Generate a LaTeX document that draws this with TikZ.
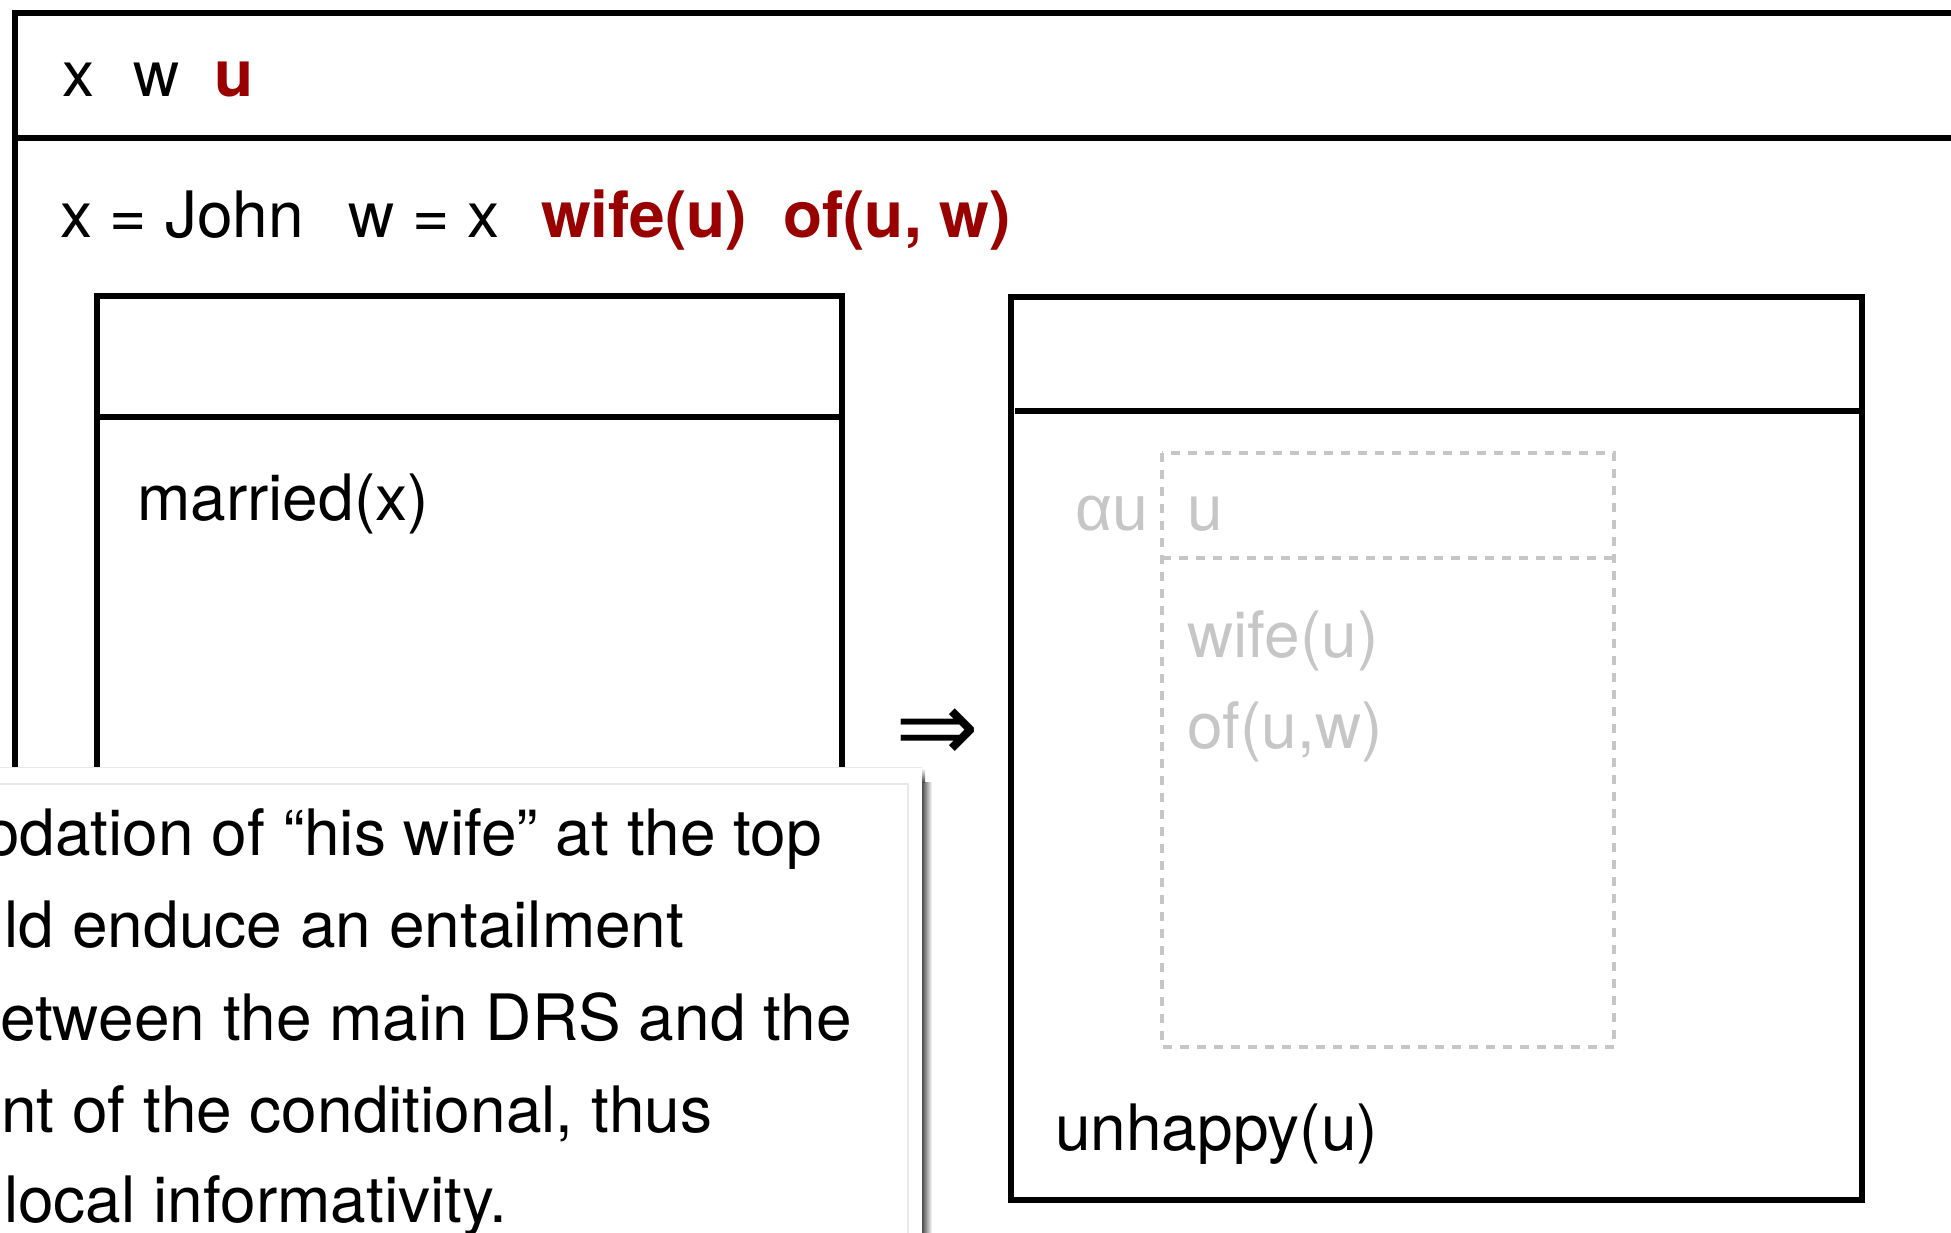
\documentclass[tikz,border=0pt]{standalone}
\usepackage{fontspec}
\setmainfont{TeX Gyre Heros}
\newfontfamily\arrowfont{DejaVu Sans}
\newfontfamily\greekfont{Liberation Sans}
\definecolor{drsred}{HTML}{990000}
\definecolor{ghost}{HTML}{C6C6C6}
\definecolor{edgegray}{HTML}{E8E8E8}
\begin{document}
\begin{tikzpicture}[x=1pt,y=-1pt,
  drsbox/.style={draw=black,line width=5.5pt},
  ghostbox/.style={draw=ghost,line width=4pt,dash pattern=on 9pt off 8pt},
  txt/.style={anchor=base west,inner sep=0pt,font=\fontsize{64}{77}\selectfont},
  redtxt/.style={txt,text=drsred,font=\fontsize{64}{77}\selectfont\bfseries},
  ghosttxt/.style={txt,text=ghost}]
\useasboundingbox (0,0) rectangle (1951,1232);
\clip (0,0) rectangle (1951,1232);
% main DRS
\draw[drsbox] (15,13) rectangle (1990,1300);
\draw[drsbox] (15,138) -- (1990,138);
\node[txt] (vx) at (62,96) {x};
\node[txt] (vw) at (133,96) {w};
\node[redtxt] (vu) at (214,96) {u};
\node[txt] (c1) at (60,237) {x = John};
\node[txt] (c2) at (348,237) {w = x};
\node[redtxt] (c3) at (541,237) {wife(u)};
\node[redtxt] (c4) at (783,237) {of(u, w)};
% antecedent box
\draw[drsbox] (97,296) rectangle (842,1300);
\draw[drsbox] (97,417) -- (842,417);
\node[txt] (mar) at (137,520) {married(x)};
% arrow
\node[anchor=base,inner sep=0pt,font=\arrowfont\fontsize{100}{110}\selectfont] (impl) at (937,761) {⇒};
% consequent box
\draw[drsbox] (1011,297) rectangle (1862,1200);
\draw[drsbox] (1015,411) -- (1862,411);
% ghost DRS
\draw[ghostbox] (1162,453) rectangle (1614,1047);
\draw[ghostbox] (1162,558) -- (1614,558);
\node[ghosttxt,font=\greekfont\fontsize{64}{77}\selectfont] (au) at (1075,530) {αu};
\node[ghosttxt] (gu) at (1187,530) {u};
\node[ghosttxt] (gw) at (1187,657) {wife(u)};
\node[ghosttxt] (go) at (1187,748) {of(u,w)};
\node[txt] (unh) at (1055,1150) {unhappy(u)};
% callout
\shade[left color=black!70,right color=white] (922,782) rectangle (932,1250);
\shade[top color=white,bottom color=black!70] (922,768) rectangle (925,782);
\fill[white] (-20,767) rectangle (922,1250);
\draw[edgegray,line width=1.5pt] (-20,767.5) -- (922,767.5);
\draw[edgegray,line width=1.2pt] (-20,784) -- (908,784) -- (908,1250);
\node[txt] (l1) at (-16,855) {odation of “his wife” at the top};
\node[txt] (l2) at (-31,947) {uld enduce an entailment};
\node[txt] (l3) at (0,1040) {etween the main DRS and the};
\node[txt] (l4) at (1,1132) {nt of the conditional, thus};
\node[txt] (l5) at (4,1222) {local informativity.};
\end{tikzpicture}
\end{document}
